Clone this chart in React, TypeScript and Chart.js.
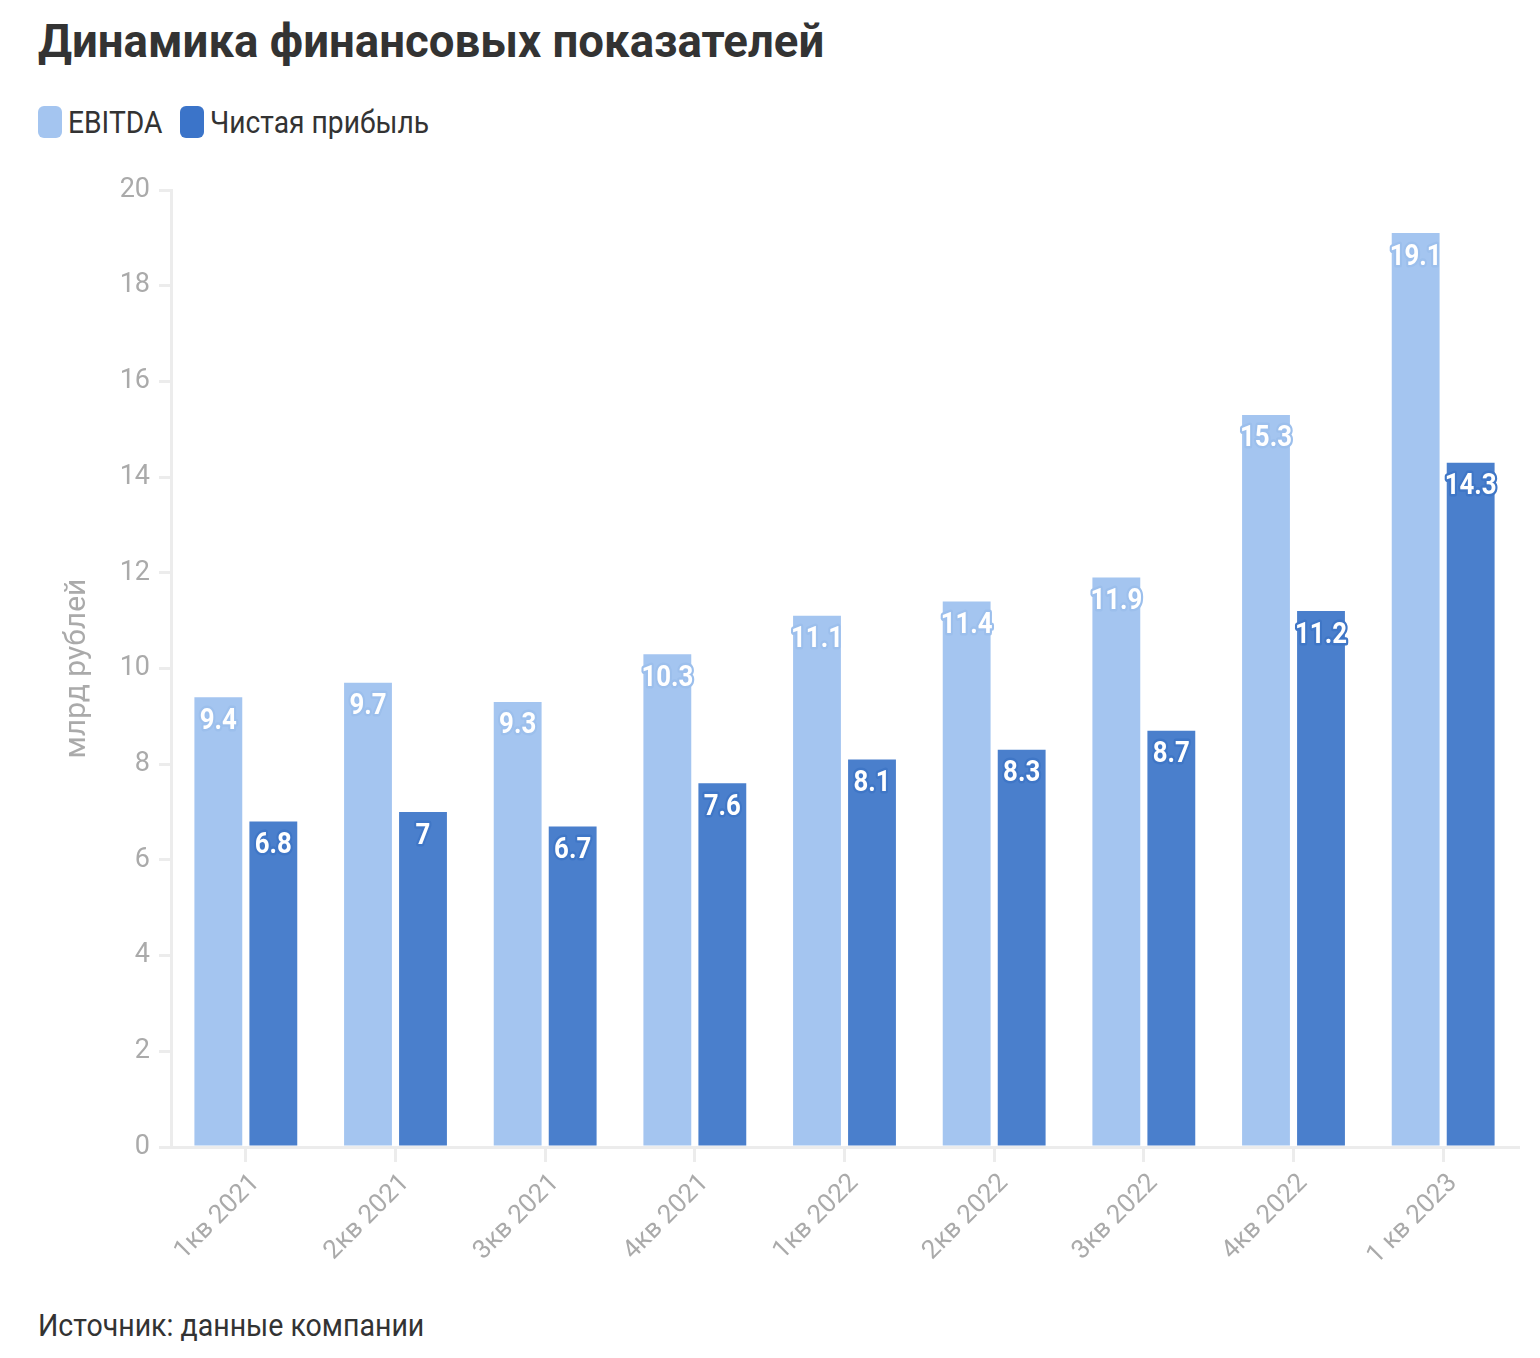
import React, { useEffect, useRef } from "react";
import { Chart, registerables } from "chart.js";

Chart.register(...registerables);

const categories = ["1кв 2021", "2кв 2021", "3кв 2021", "4кв 2021", "1кв 2022", "2кв 2022", "3кв 2022", "4кв 2022", "1 кв 2023"];
const ebitda = [9.4, 9.7, 9.3, 10.3, 11.1, 11.4, 11.9, 15.3, 19.1];
const netProfit = [6.8, 7, 6.7, 7.6, 8.1, 8.3, 8.7, 11.2, 14.3];
const seriesNames = ["EBITDA", "Чистая прибыль"];
const titleText = "Динамика финансовых показателей";
const yAxisTitle = "млрд рублей";
const sourceText = "Источник: данные компании";

const LIGHT = "#a4c5f0";
const DARK = "#4a7fcc";
const LEGEND_DARK = "#3b74c9";

const labelPlugin = {
  id: "valueLabels",
  afterDatasetsDraw(chart: any) {
    const ctx = chart.ctx;
    chart.data.datasets.forEach((ds: any, i: number) => {
      const meta = chart.getDatasetMeta(i);
      meta.data.forEach((bar: any, j: number) => {
        const text = String(ds.data[j]);
        ctx.save();
        ctx.translate(bar.x, bar.y + 24);
        ctx.scale(0.86, 1);
        ctx.font = "bold 30px Roboto";
        ctx.textAlign = "center";
        ctx.textBaseline = "middle";
        ctx.lineJoin = "round";
        ctx.lineWidth = 5;
        ctx.strokeStyle = ds.labelStroke;
        ctx.strokeText(text, 0, 0);
        ctx.fillStyle = "#ffffff";
        ctx.fillText(text, 0, 0);
        ctx.restore();
      });
    });
  },
};

export default function App() {
  const ref = useRef<HTMLCanvasElement>(null);

  useEffect(() => {
    if (!ref.current) return;
    const chart = new Chart(ref.current, {
      type: "bar",
      data: {
        labels: categories,
        datasets: [
          {
            label: seriesNames[0],
            data: ebitda,
            backgroundColor: LIGHT,
            borderWidth: 0,
            categoryPercentage: 0.735,
            barPercentage: 0.87,
            labelStroke: "#9cbfec",
          } as any,
          {
            label: seriesNames[1],
            data: netProfit,
            backgroundColor: DARK,
            borderWidth: 0,
            categoryPercentage: 0.735,
            barPercentage: 0.87,
            labelStroke: "#3f76c6",
          } as any,
        ],
      },
      options: {
        animation: false,
        responsive: false,
        maintainAspectRatio: false,
        layout: { padding: { left: 0, right: 22, top: 28, bottom: 0 } },
        plugins: {
          legend: { display: false },
          tooltip: { enabled: false },
          title: { display: false },
        },
        scales: {
          x: {
            grid: {
              offset: false,
              drawOnChartArea: false,
              drawTicks: true,
              tickLength: 15,
              color: "#ececec",
              lineWidth: 3,
            },
            border: { display: true, color: "#ececec", width: 3 },
            ticks: {
              minRotation: 45,
              maxRotation: 45,
              autoSkip: false,
              padding: 6,
              labelOffset: 10,
              color: "#aaaaaa",
              font: { family: "Roboto", size: 26 },
            },
            afterFit(scale: any) {
              scale.height = 155;
            },
          },
          y: {
            min: 0,
            max: 20,
            ticks: {
              stepSize: 2,
              padding: 9,
              color: "#aaaaaa",
              font: { family: "Roboto", size: 27 },
            },
            grid: {
              drawOnChartArea: false,
              drawTicks: true,
              tickLength: 12,
              color: "#ececec",
              lineWidth: 3,
            },
            border: { display: true, color: "#ececec", width: 3 },
            title: {
              display: true,
              text: yAxisTitle,
              color: "#aaaaaa",
              font: { family: "Roboto", size: 30 },
              padding: { top: 59, bottom: 0 },
            },
            afterFit(scale: any) {
              scale.width = 171;
            },
          },
        },
      },
      plugins: [labelPlugin],
    });
    return () => chart.destroy();
  }, []);

  const swatch = (color: string) => ({
    display: "inline-block",
    width: 24,
    height: 32,
    borderRadius: 6,
    background: color,
    verticalAlign: "middle",
    flex: "none" as const,
  });

  return (
    <div style={{ position: "absolute", left: 0, top: 0, width: 1540, height: 1358, background: "#fff", fontFamily: "Roboto" }}>
      <div
        style={{
          position: "absolute",
          left: 38,
          top: 8,
          fontSize: 47,
          fontWeight: 700,
          color: "#333333",
          whiteSpace: "nowrap",
          transform: "scaleX(0.97)",
          transformOrigin: "left top",
          lineHeight: "66px",
        }}
      >
        {titleText}
      </div>
      <div style={{ position: "absolute", left: 38, top: 105, height: 34, display: "flex", alignItems: "center", whiteSpace: "nowrap" }}>
        <span style={swatch(LIGHT)} />
        <span style={{ fontSize: 31, color: "#333", marginLeft: 6, display: "inline-block", transform: "scaleX(0.91)", transformOrigin: "left center", width: 112 }}>
          {seriesNames[0]}
        </span>
        <span style={swatch(LEGEND_DARK)} />
        <span style={{ fontSize: 31, color: "#333", marginLeft: 6, display: "inline-block", transform: "scaleX(0.91)", transformOrigin: "left center" }}>
          {seriesNames[1]}
        </span>
      </div>
      <canvas ref={ref} width={1540} height={1140} style={{ position: "absolute", left: 0, top: 162, width: 1540, height: 1140 }} />
      <div
        style={{
          position: "absolute",
          left: 38,
          top: 1306,
          fontSize: 31,
          color: "#333333",
          whiteSpace: "nowrap",
          transform: "scaleX(0.92)",
          transformOrigin: "left top",
          lineHeight: "40px",
        }}
      >
        {sourceText}
      </div>
    </div>
  );
}
